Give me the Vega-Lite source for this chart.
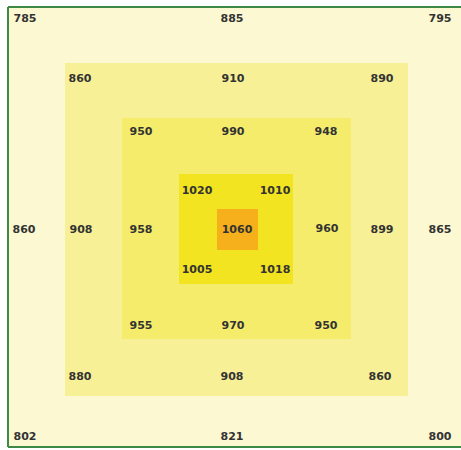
{
  "$schema": "https://vega.github.io/schema/vega-lite/v6.json",
  "width": 461,
  "height": 450,
  "padding": 0,
  "autosize": {"type": "none"},
  "background": "white",
  "config": {"view": {"stroke": null}},
  "layer": [
    {
      "data": {"values": [
        {"ring": "r0", "x": 8, "x2": 461, "y": 7, "y2": 447},
        {"ring": "r1", "x": 65, "x2": 408, "y": 63, "y2": 396},
        {"ring": "r2", "x": 122, "x2": 351, "y": 118, "y2": 339},
        {"ring": "r3", "x": 179, "x2": 293, "y": 174, "y2": 284},
        {"ring": "r4", "x": 217, "x2": 258, "y": 209, "y2": 250}
      ]},
      "mark": {"type": "rect"},
      "encoding": {
        "x": {"field": "x", "type": "quantitative", "scale": {"domain": [0, 461], "nice": false, "zero": false}, "axis": null},
        "x2": {"field": "x2"},
        "y": {"field": "y", "type": "quantitative", "scale": {"domain": [0, 450], "nice": false, "zero": false, "reverse": true}, "axis": null},
        "y2": {"field": "y2"},
        "color": {"field": "ring", "type": "nominal", "legend": null,
          "scale": {"domain": ["r0", "r1", "r2", "r3", "r4"], "range": ["#FCF8D2", "#F7F096", "#F5EC6C", "#F2E420", "#F5B01C"]}}
      }
    },
    {
      "data": {"values": [
        {"x": 8, "x2": 8, "y": 7, "y2": 447},
        {"x": 8, "x2": 461, "y": 7, "y2": 7},
        {"x": 8, "x2": 461, "y": 447, "y2": 447}
      ]},
      "mark": {"type": "rule", "color": "#3E8A45", "strokeWidth": 2},
      "encoding": {
        "x": {"field": "x", "type": "quantitative", "scale": {"domain": [0, 461], "nice": false, "zero": false}, "axis": null},
        "x2": {"field": "x2"},
        "y": {"field": "y", "type": "quantitative", "scale": {"domain": [0, 450], "nice": false, "zero": false, "reverse": true}, "axis": null},
        "y2": {"field": "y2"}
      }
    },
    {
      "data": {"values": [
        {"v": "785", "x": 25, "y": 19}, {"v": "885", "x": 232, "y": 19}, {"v": "795", "x": 440, "y": 19},
        {"v": "860", "x": 24, "y": 230}, {"v": "865", "x": 440, "y": 230},
        {"v": "802", "x": 25, "y": 437}, {"v": "821", "x": 232, "y": 437}, {"v": "800", "x": 440, "y": 437},
        {"v": "860", "x": 80, "y": 79}, {"v": "910", "x": 233, "y": 79}, {"v": "890", "x": 382, "y": 79},
        {"v": "908", "x": 81, "y": 230}, {"v": "899", "x": 382, "y": 230},
        {"v": "880", "x": 80, "y": 377}, {"v": "908", "x": 232, "y": 377}, {"v": "860", "x": 380, "y": 377},
        {"v": "950", "x": 141, "y": 132}, {"v": "990", "x": 233, "y": 132}, {"v": "948", "x": 326, "y": 132},
        {"v": "958", "x": 141, "y": 230}, {"v": "960", "x": 327, "y": 229},
        {"v": "955", "x": 141, "y": 326}, {"v": "970", "x": 233, "y": 326}, {"v": "950", "x": 326, "y": 326},
        {"v": "1020", "x": 197, "y": 191}, {"v": "1010", "x": 275, "y": 191},
        {"v": "1005", "x": 197, "y": 270}, {"v": "1018", "x": 275, "y": 270},
        {"v": "1060", "x": 237, "y": 230}
      ]},
      "mark": {"type": "text", "font": "DejaVu Sans", "fontWeight": "bold", "fontSize": 11, "color": "#333333", "align": "center", "baseline": "middle"},
      "encoding": {
        "x": {"field": "x", "type": "quantitative", "scale": {"domain": [0, 461], "nice": false, "zero": false}, "axis": null},
        "y": {"field": "y", "type": "quantitative", "scale": {"domain": [0, 450], "nice": false, "zero": false, "reverse": true}, "axis": null},
        "text": {"field": "v", "type": "nominal"}
      }
    }
  ]
}
